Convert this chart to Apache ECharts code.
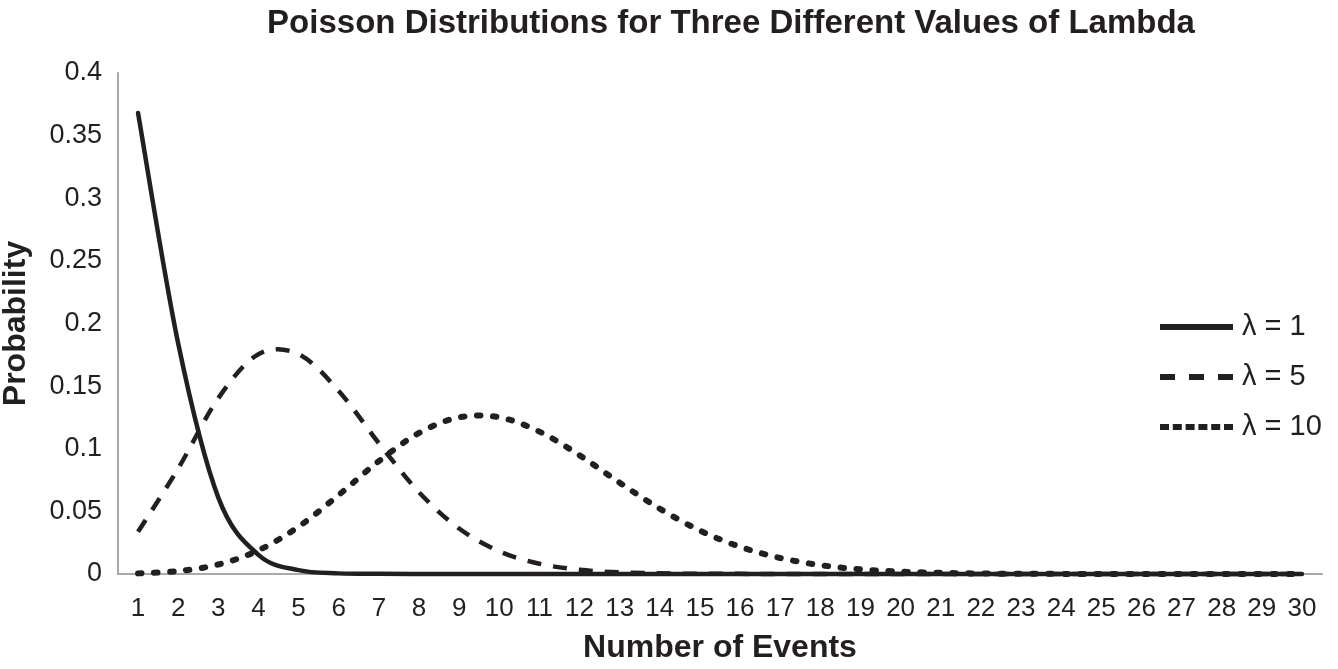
<!DOCTYPE html>
<html>
<head>
<meta charset="utf-8">
<script src="https://cdn.jsdelivr.net/npm/echarts@6/dist/echarts.min.js"></script>
<style>html,body{margin:0;padding:0;background:#fff}#c{width:1338px;height:669px}</style>
</head>
<body>
<div id="c"></div>
<script>
const categories = ['1','2','3','4','5','6','7','8','9','10','11','12','13','14','15','16','17','18','19','20','21','22','23','24','25','26','27','28','29','30'];
const lambda1 = [0.368,0.184,0.061,0.0153,0.0031,0.0005,0.0001,0,0,0,0,0,0,0,0,0,0,0,0,0,0,0,0,0,0,0,0,0,0,0];
const lambda5 = [0.0337,0.0842,0.1404,0.1755,0.1755,0.1462,0.1044,0.0653,0.0363,0.0181,0.0082,0.0034,0.0013,0.0005,0.0002,0.0001,0,0,0,0,0,0,0,0,0,0,0,0,0,0];
const lambda10 = [0.0005,0.0023,0.0076,0.0189,0.0378,0.0631,0.0901,0.1126,0.1251,0.1251,0.1137,0.0948,0.0729,0.0521,0.0347,0.0217,0.0128,0.0071,0.0037,0.0019,0.0009,0.0004,0.0002,0.0001,0,0,0,0,0,0];
const seriesNames = ['λ = 1','λ = 5','λ = 10'];
const yTicks = [0,0.05,0.1,0.15,0.2,0.25,0.3,0.35,0.4];

const INK = '#231f20';
const FONT = '"Liberation Sans", Arial, Helvetica, sans-serif';
const chart = echarts.init(document.getElementById('c'), null, {renderer:'canvas'});

// Smoothed (Excel-like Catmull-Rom) curve through the data points, positioned by the chart's own axes
function smoothSeries(name, values, width, dash, cap){
  return {
    name, type:'custom', coordinateSystem:'cartesian2d',
    data: values.map((v,i)=>[i, v]),
    encode:{x:0, y:1},
    clip:false,
    renderItem(params, api){
      if (params.dataIndex !== 0) return null;
      const pts = values.map((v,i)=>api.coord([i, v]));
      const n = pts.length;
      let d = 'M' + pts[0][0] + ',' + pts[0][1];
      for (let i=0;i<n-1;i++){
        const p0 = pts[Math.max(i-1,0)], p1 = pts[i], p2 = pts[i+1], p3 = pts[Math.min(i+2,n-1)];
        const c1x = p1[0] + (p2[0]-p0[0])/6, c1y = p1[1] + (p2[1]-p0[1])/6;
        const c2x = p2[0] - (p3[0]-p1[0])/6, c2y = p2[1] - (p3[1]-p1[1])/6;
        d += ' C' + c1x + ',' + c1y + ' ' + c2x + ',' + c2y + ' ' + p2[0] + ',' + p2[1];
      }
      return {
        type:'path', shape:{pathData:d},
        style:{fill:null, stroke:INK, lineWidth:width, lineDash:dash, lineCap:cap, lineJoin:'round'}
      };
    },
    itemStyle:{color:INK}
  };
}

function dotsIcon(){
  let p = 'path://';
  for (let k=0;k<6;k++){
    const x = k*12.8;
    p += 'M' + x + ',0 h9 v6 h-9 z ';
  }
  return p;
}

chart.setOption({
  backgroundColor:'#fff',
  animation:false,
  title:{
    text:'Poisson Distributions for Three Different Values of Lambda',
    left:726, top:2, textAlign:'center',
    textStyle:{fontFamily:FONT, fontWeight:'bold', fontSize:33, color:INK}
  },
  legend:{
    orient:'vertical', left:1155, top:307, itemWidth:73, itemHeight:6, itemGap:20,
    data:[
      {name:seriesNames[0], icon:'path://M0,0h73v6h-73z'},
      {name:seriesNames[1], icon:'path://M0,0h15v6h-15z M29,0h15v6h-15z M58,0h15v6h-15z'},
      {name:seriesNames[2], icon:dotsIcon()}
    ],
    itemStyle:{color:INK, borderWidth:0},
    textStyle:{fontFamily:FONT, fontSize:29, color:INK, lineHeight:30, padding:[0,0,0,4]}
  },
  grid:{left:118, right:16, top:73, bottom:95, containLabel:false, outerBoundsMode:'none'},
  xAxis:{
    type:'category', data:categories, boundaryGap:true,
    name:'Number of Events', nameLocation:'middle', nameGap:58,
    nameTextStyle:{fontFamily:FONT, fontWeight:'bold', fontSize:32, color:INK},
    axisLine:{lineStyle:{color:'#a7a9ac', width:2}},
    axisTick:{show:false},
    axisLabel:{fontFamily:FONT, fontSize:26, color:INK, margin:22, interval:0}
  },
  yAxis:{
    type:'value', min:yTicks[0], max:yTicks[yTicks.length-1], interval:0.05,
    name:'Probability', nameLocation:'middle', nameGap:86, nameRotate:90,
    nameTextStyle:{fontFamily:FONT, fontWeight:'bold', fontSize:32, color:INK},
    axisLine:{show:true, lineStyle:{color:'#a7a9ac', width:2}},
    axisTick:{show:false},
    splitLine:{show:false},
    axisLabel:{fontFamily:FONT, fontSize:27, color:INK, margin:16}
  },
  series:[
    smoothSeries(seriesNames[0], lambda1, 4.5, null, 'round'),
    smoothSeries(seriesNames[1], lambda5, 4.5, [14,12], 'butt'),
    smoothSeries(seriesNames[2], lambda10, 6, [3.5,12.5], 'round')
  ]
});
</script>
</body>
</html>
